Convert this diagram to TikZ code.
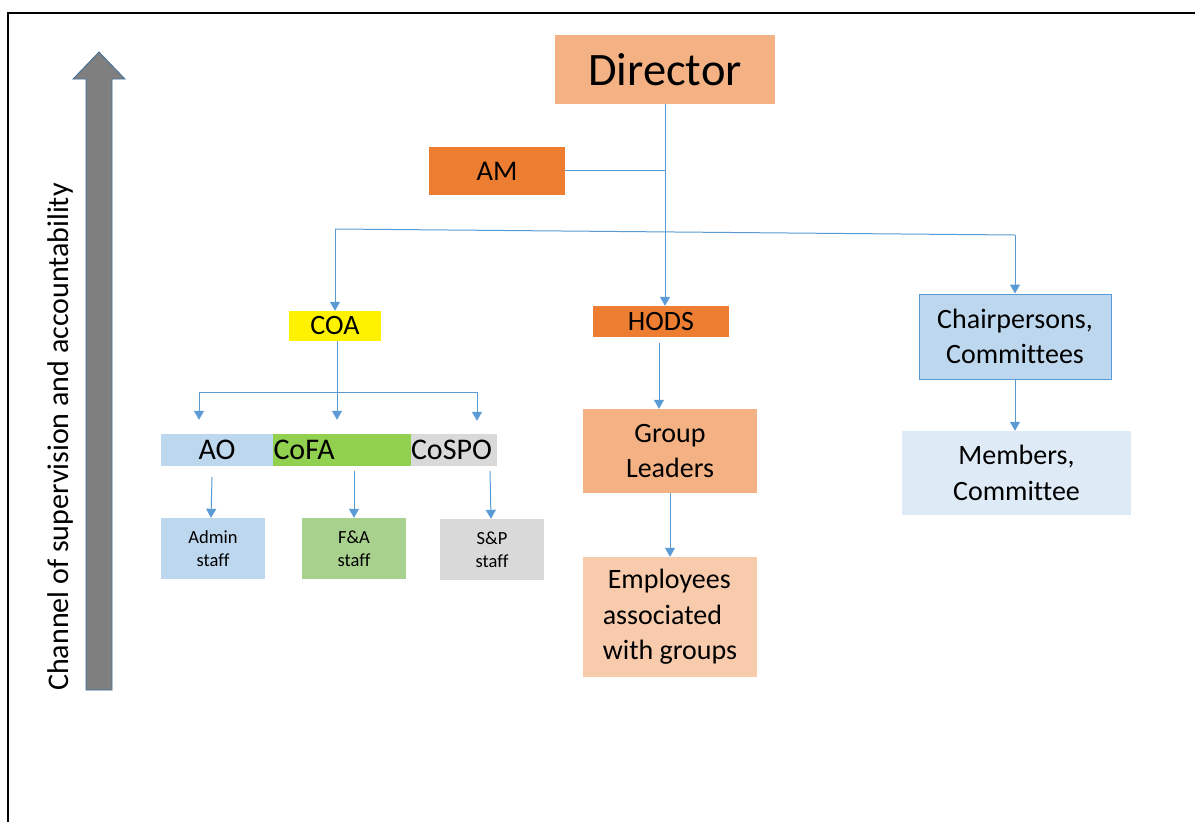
\documentclass[tikz,border=0pt]{standalone}
\usepackage{fontspec}
\setmainfont{Carlito}[Ligatures=NoCommon]
\usetikzlibrary{arrows.meta}
\definecolor{conn}{HTML}{5B9BD5}
\definecolor{dirc}{HTML}{F4B183}
\definecolor{orng}{HTML}{ED7D31}
\definecolor{lblue}{HTML}{BDD7EE}
\definecolor{vlblue}{HTML}{DEEBF7}
\definecolor{lpeach}{HTML}{F8CBAD}
\definecolor{grn}{HTML}{92D050}
\definecolor{lgrn}{HTML}{A9D18E}
\definecolor{lgray}{HTML}{D9D9D9}
\definecolor{arrgray}{HTML}{7F7F7F}
\definecolor{arredge}{HTML}{41719C}
\tikzset{
  box/.style={rectangle, inner sep=0pt, align=center, font=\fontsize{28}{35.5}\selectfont},
  smallbox/.style={rectangle, inner sep=0pt, align=center, font=\fontsize{18.5}{23}\selectfont},
  link/.style={draw=conn, line width=1pt},
  arr/.style={link, -{Triangle[width=10pt,length=9pt]}}
}
\begin{document}
\begin{tikzpicture}[x=1pt,y=-1pt]
\useasboundingbox (0,0) rectangle (1195,822);
\fill[white] (0,0) rectangle (1195,822);
% frame
\draw[black, line width=2pt] (8,822) -- (8,13) -- (1195,13);
% big arrow
\filldraw[fill=arrgray, draw=arredge, line width=0.8pt]
  (86,690) -- (86,79) -- (73,79) -- (99,52) -- (125,79) -- (112,79) -- (112,690) -- cycle;
\node[rotate=90, font=\fontsize{30}{34}\selectfont] (chan) at (61,437) {Channel of supervision and accountability};
% nodes
\node[box, fill=dirc, minimum width=220pt, minimum height=69pt, font=\fontsize{46.5}{50}\selectfont] (dir) at (665,69.5) {\raisebox{-3pt}{Director}};
\node[box, fill=orng, minimum width=136pt, minimum height=48pt, font=\fontsize{28.5}{30}\selectfont] (am) at (497,171) {AM};
\node[box, fill=yellow, minimum width=92pt, minimum height=30pt] (coa) at (335,326) {COA};
\node[box, fill=orng, minimum width=136pt, minimum height=31pt] (hods) at (661,321.5) {HODS};
\node[box, fill=lblue, draw=conn, line width=1pt, minimum width=192pt, minimum height=85pt] (chair) at (1015,336.5) {Chairpersons,\\Committees};
\node[box, fill=vlblue, minimum width=229pt, minimum height=84pt] (mem) at (1016.5,473) {Members,\\Committee};
\node[box, fill=dirc, minimum width=174pt, minimum height=84pt] (grp) at (670,451) {Group\\Leaders};
\node[box, fill=lpeach, minimum width=174pt, minimum height=120pt, align=left] (emp) at (670,617) {\hspace*{5pt}Employees\\associated\\with groups};
\node[box, fill=lblue, minimum width=112pt, minimum height=32pt, font=\fontsize{30}{30}\selectfont] (ao) at (217,450) {AO};
\node[box, fill=grn, minimum width=138pt, minimum height=32pt, text width=137pt, align=left, font=\fontsize{30}{30}\selectfont] (cofa) at (342,450) {CoFA};
\node[box, fill=lgray, minimum width=86pt, minimum height=32pt, text width=86pt, align=left, font=\fontsize{30}{30}\selectfont] (cospo) at (454,450) {CoSPO};
\node[smallbox, fill=lblue, minimum width=104pt, minimum height=61pt] (admin) at (213,548.5) {Admin\\staff};
\node[smallbox, fill=lgrn, minimum width=104pt, minimum height=61pt] (fa) at (354,548.5) {F\&A\\staff};
\node[smallbox, fill=lgray, minimum width=104pt, minimum height=61pt] (sp) at (492,549.5) {S\&P\\staff};
% branch points
\coordinate (amj) at (665,170);
\coordinate (hl) at (335,229);
\coordinate (hr) at (1015,235);
\coordinate (cj) at (337,392);
\coordinate (cl) at (199,392);
\coordinate (cr) at (477,392);
% connectors
\draw[link] (am.east |- amj) -- (amj);
\draw[arr] (dir.south) -- (hods.north -| dir.south);
\draw[link] (hl) -- (hr);
\draw[arr] (hl) -- (coa.north -| hl);
\draw[arr] (hr) -- (chair.north -| hr);
\draw[arr] (coa.south -| cj) -- ([yshift=14pt]ao.north -| cj);
\draw[link] (cl) -- (cr);
\draw[arr] (cl) -- ([yshift=14pt]ao.north -| cl);
\draw[arr] (cr) -- ([yshift=13pt]cospo.north -| cr);
\draw[arr] (212,477) -- (admin.north -| 211,0);
\draw[arr] (354,471) -- (fa.north);
\draw[arr] (490,471) -- (sp.north -| 491,0);
\draw[arr] (659,343) -- (grp.north -| 659,0);
\draw[arr] (grp.south) -- (emp.north);
\draw[arr] (chair.south) -- (mem.north -| chair.south);
\end{tikzpicture}
\end{document}
